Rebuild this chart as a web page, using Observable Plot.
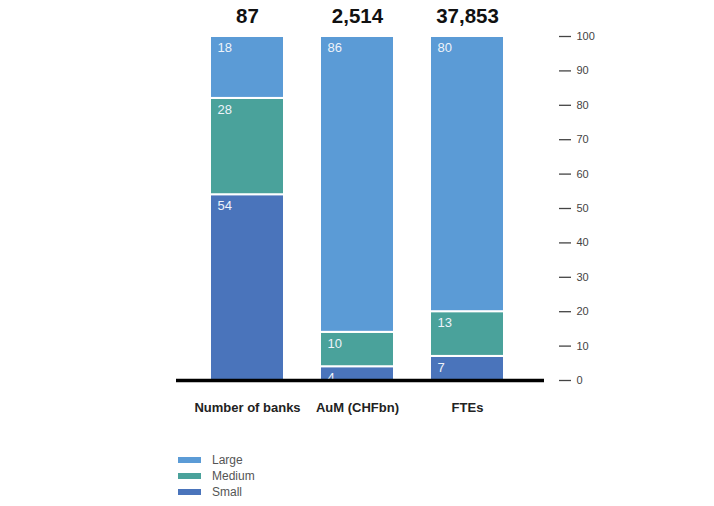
<!DOCTYPE html>
<html>
<head>
<meta charset="utf-8">
<script src="https://cdn.jsdelivr.net/npm/d3@7"></script>
<script src="https://cdn.jsdelivr.net/npm/@observablehq/plot@0.6"></script>
<style>
  html, body { margin: 0; padding: 0; background: #fff; }
  body { width: 714px; height: 506px; overflow: hidden; font-family: "Liberation Sans", Arial, sans-serif; }
  #legend { position: absolute; left: 178px; top: 452px; font-size: 12px; color: #555; }
  .row { display: flex; align-items: center; height: 16px; }
  .sw { width: 23px; height: 6px; margin-right: 11px; }
</style>
</head>
<body>
<div id="chart"></div>
<div id="legend"></div>
<script>
const categories = ["Number of banks", "AuM (CHFbn)", "FTEs"];
const totals = ["87", "2,514", "37,853"];
const sizes = ["Small", "Medium", "Large"];
const small = [54, 4, 7];
const medium = [28, 10, 13];
const large = [18, 86, 80];
const colors = { Small: "#4a74bb", Medium: "#4aa29b", Large: "#5b9bd6" };
const yTicks = [0, 10, 20, 30, 40, 50, 60, 70, 80, 90, 100];

const series = { Small: small, Medium: medium, Large: large };
const rows = [];
for (const s of sizes) {
  categories.forEach((c, i) => rows.push({ category: c, size: s, value: series[s][i] }));
}
const totalRows = categories.map((c, i) => ({ category: c, total: totals[i] }));

const chart = Plot.plot({
  width: 714,
  height: 430,
  marginTop: 36,
  marginBottom: 50,
  marginLeft: 176,
  marginRight: 170,
  style: { fontFamily: "Liberation Sans, Arial, sans-serif", background: "#fff" },
  x: { type: "band", domain: categories, range: [174, 540], padding: 0.327, axis: null },
  y: { domain: [0, 100], axis: null, label: null },
  color: { domain: sizes, range: sizes.map(s => colors[s]) },
  marks: [
    Plot.barY(rows, Plot.stackY({ x: "category", y: "value", fill: "size", stroke: "white", strokeWidth: 2 })),
    Plot.text(rows, Plot.stackY2({ x: "category", y: "value", text: "value", textAnchor: "start", dx: -30, dy: 11, fill: "#eef3fa", fontSize: 13 })),
    Plot.ruleY([0], { stroke: "#000", strokeWidth: 3.5 }),
    Plot.axisY({ anchor: "right", ticks: yTicks, label: null, tickSize: 12, tickPadding: 6, dx: 14, fontSize: 11, color: "#444", strokeWidth: 1.3 }),
    Plot.text(totalRows, { x: "category", y: 100, text: "total", dy: -20, fontSize: 20.5, fontWeight: "bold", fill: "#111" }),
    Plot.text(totalRows, { x: "category", y: 0, text: "category", dy: 27, fontSize: 13, fontWeight: "bold", fill: "#222" })
  ]
});
document.getElementById("chart").appendChild(chart);

const legend = document.getElementById("legend");
for (const s of [...sizes].reverse()) {
  const r = document.createElement("div");
  r.className = "row";
  r.innerHTML = `<span class="sw" style="background:${colors[s]}"></span><span>${s}</span>`;
  legend.appendChild(r);
}
</script>
</body>
</html>
